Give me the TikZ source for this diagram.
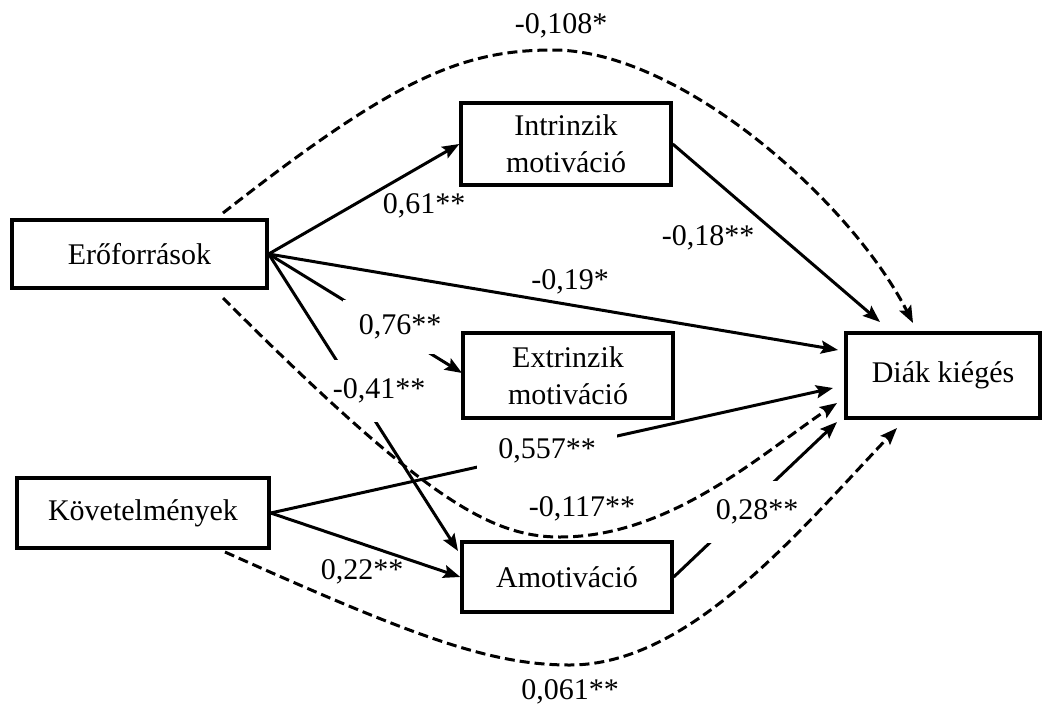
\documentclass[tikz,border=0pt]{standalone}
\usepackage{fontspec}
\setmainfont{Liberation Serif}
\usetikzlibrary{arrows.meta}
\tikzset{
  txt/.style={font=\fontsize{30}{37}\selectfont},
  box/.style={txt, draw, line width=3.4pt, inner sep=0pt, align=center},
  solid arrow/.style={line width=3pt, -{Stealth[length=17pt,width=13pt,inset=3pt]}},
  dash arrow/.style={line width=3pt, dash pattern=on 10pt off 5pt, -{Stealth[length=17pt,width=13pt,inset=3pt]}},
  lbl/.style={txt, inner sep=2pt},
  gaplbl/.style={txt, fill=white}
}
\begin{document}
\begin{tikzpicture}[x=1pt,y=-1pt]
\useasboundingbox (0,0) rectangle (1048,707);

% boxes
\node[box, minimum width=255pt, minimum height=68pt] (ero) at (139.5,254) {Erőforrások};
\node[box, minimum width=252pt, minimum height=70pt] (kov) at (143,513) {Követelmények};
\node[box, minimum width=210pt, minimum height=82pt] (intr) at (566,144) {Intrinzik\\motiváció};
\node[box, minimum width=210pt, minimum height=85pt] (extr) at (568,375.5) {Extrinzik\\motiváció};
\node[box, minimum width=210pt, minimum height=70pt] (amot) at (567,577) {Amotiváció};
\node[box, minimum width=194pt, minimum height=85pt] (diak) at (943,375.5) {Diák kiégés};

% free ends
\coordinate (tIntrD) at (880,322);
\coordinate (tEroD) at (838,350);
\coordinate (tKovD) at (833,388);
\coordinate (tAmotD) at (837,422);
\coordinate (tEroE) at (462,373);
\coordinate (tEroA) at (458,551);
\coordinate (s9) at (223,213);
\coordinate (m9) at (553,50);
\coordinate (e9) at (913,323);
\coordinate (s10) at (223,298);
\coordinate (m10) at (560,537);
\coordinate (e10) at (837,403);
\coordinate (s11) at (225,552);
\coordinate (m11) at (570,665);
\coordinate (e11) at (897,428);

% solid paths
\draw[solid arrow] (ero.east) -- (intr.west);
\node[lbl] (l061) at (424,206) {0,61**};
\draw[solid arrow] (intr.east) -- (tIntrD);
\node[lbl] (l018) at (708,238) {-0,18**};
\draw[solid arrow] (ero.east) -- (tEroD);
\node[lbl] (l019) at (570,282) {-0,19*};
\draw[solid arrow] (ero.east) -- (tEroA);
\node[gaplbl, inner xsep=18pt, inner ysep=19pt] (l041) at (379,391) {-0,41**};
\draw[solid arrow] (ero.east) -- (tEroE);
\node[gaplbl, inner xsep=16pt, inner ysep=15pt] (l076) at (400,327) {0,76**};
\draw[solid arrow] (kov.east) -- (tKovD);
\node[gaplbl, inner xsep=21pt, inner ysep=6pt] (l557) at (547,451) {0,557**};
\draw[solid arrow] (amot.east) -- (tAmotD);
\node[gaplbl, inner xsep=10pt, inner ysep=19pt] (l028) at (757,512) {0,28**};
\draw[solid arrow] (kov.east) -- (amot.west);
\node[lbl] (l022) at (362,572) {0,22**};

% dashed paths
\draw[dash arrow] (s9) .. controls (393,80) and (460,50) .. (m9) .. controls (680,50) and (850,200) .. (e9);
\node[lbl] (l108) at (561,26) {-0,108*};
\draw[dash arrow] (s10) .. controls (423,498) and (490,537) .. (m10) .. controls (670,537) and (760,455) .. (e10);
\node[lbl] (l117) at (582,509) {-0,117**};
\draw[dash arrow] (s11) .. controls (415,637) and (490,665) .. (m11) .. controls (690,665) and (800,530) .. (e11);
\node[lbl] (l0061) at (570,692) {0,061**};
\end{tikzpicture}
\end{document}
